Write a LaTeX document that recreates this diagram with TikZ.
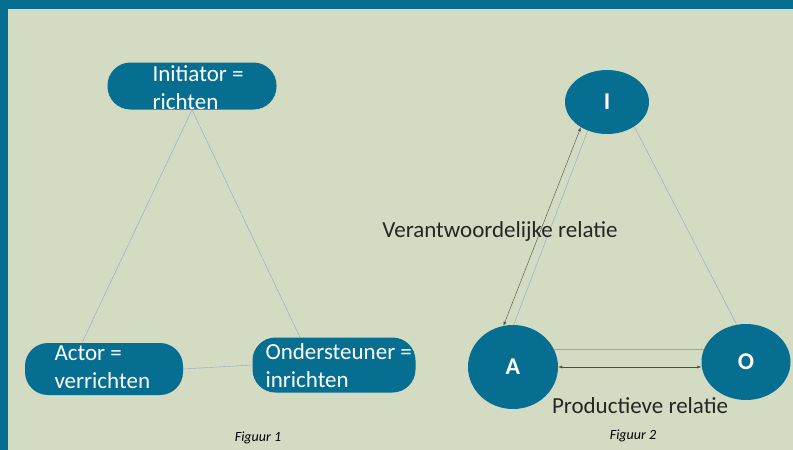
\documentclass[tikz,border=0pt]{standalone}
\usepackage{fontspec}
\setmainfont{Carlito}
\usetikzlibrary{positioning,calc,shapes.geometric,arrows.meta}
\definecolor{bg}{HTML}{D3DBC3}
\definecolor{teal}{HTML}{066F91}
\definecolor{edge}{HTML}{8EA8C3}
\tikzset{pill/.style={fill=teal, rounded corners=23pt, inner sep=0pt},
  rol/.style={anchor=base west, align=left, text=white, font=\fontsize{23}{28}\selectfont},
  oval/.style={ellipse, fill=teal, inner sep=0pt, text=white, font=\fontsize{24}{26}\selectfont\bfseries},
  line/.style={edge, thin},
  rel/.style={black!70, thin, {Latex[length=4pt,width=3pt]}-{Latex[length=4pt,width=3pt]}},
  reltext/.style={font=\fontsize{23}{26}\selectfont, text=black!85},
  fig/.style={font=\fontsize{14}{16}\itshape}}

\begin{document}
\begin{tikzpicture}[x=1pt,y=-1pt]
    \fill[teal] (0,0) rectangle (793,450);
    \fill[bg]   (8,9) rectangle (793,450);
    \useasboundingbox (0,0) rectangle (793,450);

    % Figuur 1
    \node[pill,minimum width=169pt,minimum height=47pt] (i) at (192,86)  {};
    \node[pill,minimum width=158pt,minimum height=52pt] (a) at (104,369) {};
    \node[pill,minimum width=163pt,minimum height=55pt] (o) at (334,365) {};
    \node[rol] (it) at (149,109) {Initiator =\\richten};
    \node[rol] (at) at (51,388)  {Actor =\\verrichten};
    \node[rol] (ot) at (262,387) {Ondersteuner =\\inrichten};

    \draw[line] (i.south) -- ([xshift=-22pt]a.north);
    \draw[line] (i.south) -- ([xshift=-34pt]o.north);
    \draw[line] (a.east)  -- (o.west);
    \node[fig] (f1) at (258,438) {Figuur 1};

    % Figuur 2
    \node[oval,minimum width=84pt,minimum height=64pt] (I) at (607,102) {I};
    \node[oval,minimum width=90pt,minimum height=84pt] (A) at (513,367) {A};
    \node[oval,minimum width=89pt,minimum height=76pt] (O) at (746,362) {O};

    \draw[line] (I.236) -- (A.89);
    \draw[rel]  (I.224) -- (A.103);
    \draw[line] (I.318) -- (O.104);
    \draw[line] (A.24)  -- ([xshift=3pt]O.west |- A.24);
    \draw[rel]  (A.east) -- (A.east -| O.west);

    \node[reltext] (vr) at (500,231) {Verantwoordelijke relatie};
    \node[reltext] (pr) at (640,406) {Productieve relatie};
    \node[fig] (f2) at (633,436) {Figuur 2};
\end{tikzpicture}
\end{document}
